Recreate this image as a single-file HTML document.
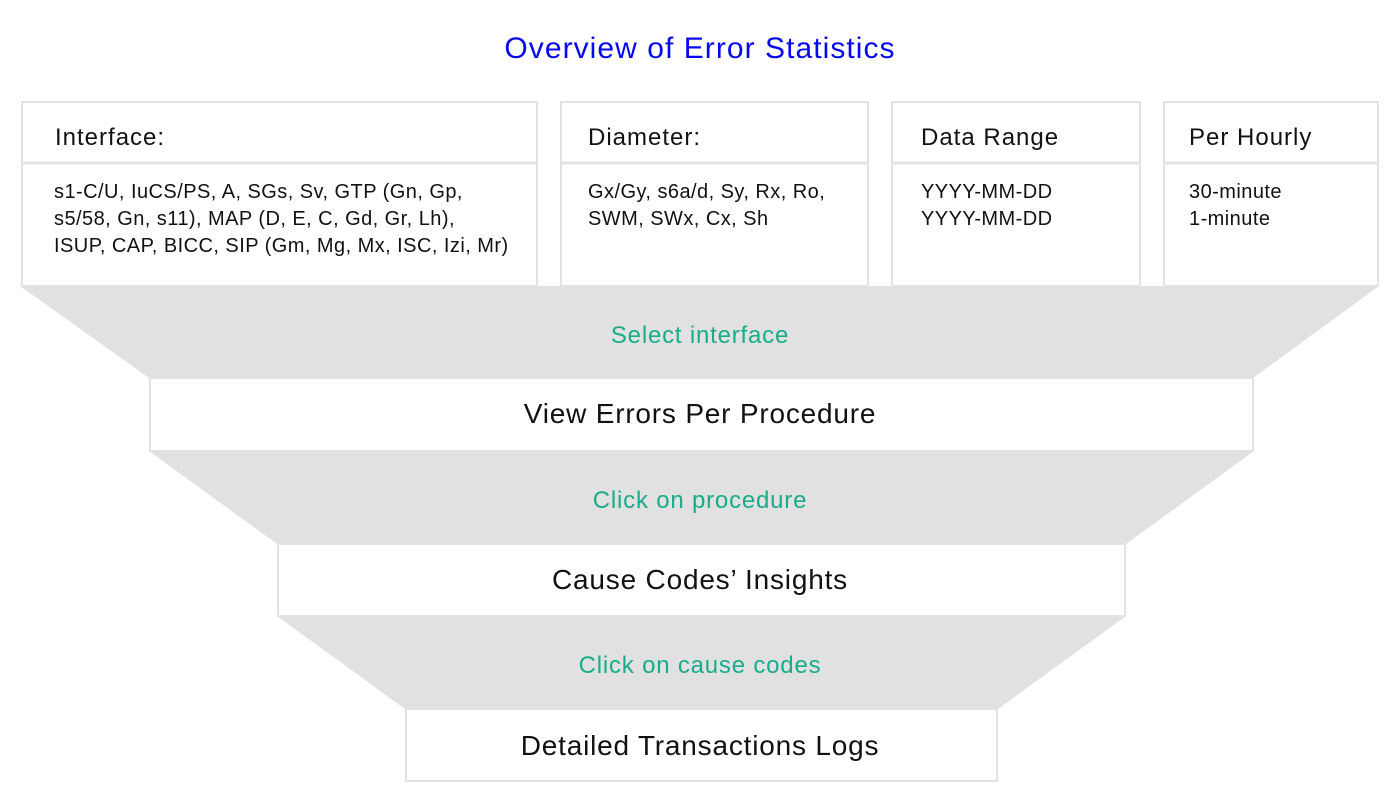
<!DOCTYPE html>
<html>
<head>
<meta charset="utf-8">
<style>
  html, body { margin: 0; padding: 0; background: #ffffff; }
  body { width: 1400px; height: 812px; overflow: hidden; }
  svg { display: block; }
  text { font-family: "Liberation Sans", Arial, sans-serif; }
  .hdr { font-size: 24px; letter-spacing: 1px; fill: #111; }
  .body { font-size: 20px; letter-spacing: 0.45px; fill: #111; }
  .big { font-size: 28px; letter-spacing: 0.8px; fill: #111; }
  .grn { font-size: 24px; letter-spacing: 0.8px; fill: #17ad8b; }
  .ttl { font-size: 30px; letter-spacing: 1.05px; fill: #0707f0; }
</style>
</head>
<body>
<svg width="1400" height="812" viewBox="0 0 1400 812" xmlns="http://www.w3.org/2000/svg">
  <rect x="0" y="0" width="1400" height="812" fill="#ffffff"/>

  <!-- Title -->
  <text class="ttl" x="700" y="58" text-anchor="middle">Overview of Error Statistics</text>

  <!-- Funnels -->
  <polygon points="20,286 1379,286 1253,378 149,378" fill="#e1e1e1"/>
  <polygon points="149,451 1254,451 1126,544 277,544" fill="#e1e1e1"/>
  <polygon points="277,616 1126,616 998,709 405,709" fill="#e1e1e1"/>

  <!-- Top boxes -->
  <g fill="#ffffff" stroke="#e2e2e2" stroke-width="2">
    <rect x="22" y="102" width="515" height="184"/>
    <rect x="561" y="102" width="307" height="184"/>
    <rect x="892" y="102" width="248" height="184"/>
    <rect x="1164" y="102" width="214" height="184"/>
  </g>
  <g stroke="#e2e2e2" stroke-width="3">
    <line x1="22" y1="163" x2="537" y2="163"/>
    <line x1="561" y1="163" x2="868" y2="163"/>
    <line x1="892" y1="163" x2="1140" y2="163"/>
    <line x1="1164" y1="163" x2="1378" y2="163"/>
  </g>

  <!-- Headers -->
  <text class="hdr" x="55" y="145">Interface:</text>
  <text class="hdr" x="588" y="145">Diameter:</text>
  <text class="hdr" x="921" y="145">Data Range</text>
  <text class="hdr" x="1189" y="145">Per Hourly</text>

  <!-- Body texts -->
  <text class="body" x="54" y="198">s1-C/U, IuCS/PS, A, SGs, Sv, GTP (Gn, Gp,</text>
  <text class="body" x="54" y="225">s5/58, Gn, s11), MAP (D, E, C, Gd, Gr, Lh),</text>
  <text class="body" x="54" y="252">ISUP, CAP, BICC, SIP (Gm, Mg, Mx, ISC, Izi, Mr)</text>

  <text class="body" x="588" y="198">Gx/Gy, s6a/d, Sy, Rx, Ro,</text>
  <text class="body" x="588" y="225">SWM, SWx, Cx, Sh</text>

  <text class="body" x="921" y="198">YYYY-MM-DD</text>
  <text class="body" x="921" y="225">YYYY-MM-DD</text>

  <text class="body" x="1189" y="198">30-minute</text>
  <text class="body" x="1189" y="225">1-minute</text>

  <!-- Funnel labels -->
  <text class="grn" x="700" y="343" text-anchor="middle">Select interface</text>
  <text class="grn" x="700" y="508" text-anchor="middle">Click on procedure</text>
  <text class="grn" x="700" y="673" text-anchor="middle">Click on cause codes</text>

  <!-- Stage boxes -->
  <g fill="#ffffff" stroke="#e2e2e2" stroke-width="2">
    <rect x="150" y="378" width="1103" height="73"/>
    <rect x="278" y="544" width="847" height="72"/>
    <rect x="406" y="709" width="591" height="72"/>
  </g>

  <text class="big" x="700" y="423" text-anchor="middle">View Errors Per Procedure</text>
  <text class="big" x="700" y="589" text-anchor="middle">Cause Codes’ Insights</text>
  <text class="big" x="700" y="755" text-anchor="middle">Detailed Transactions Logs</text>
</svg>
</body>
</html>
